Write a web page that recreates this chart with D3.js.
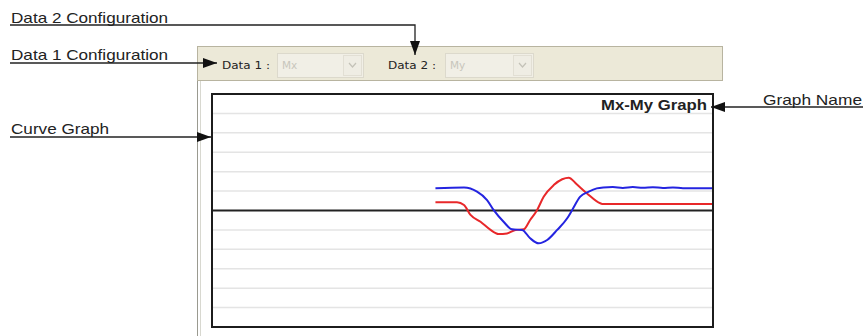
<!DOCTYPE html>
<html>
<head>
<meta charset="utf-8">
<script src="https://cdn.jsdelivr.net/npm/d3@7"></script>
<style>
	body { margin: 0; background: #fff; }
	svg { display: block; }
</style>
</head>
<body>
<svg id="chart" width="864" height="336"></svg>
<script>
	// Curve samples: [time, value]
	const timeDomain = [0, 100]
	const valueDomain = [-6, 6]

	const mxTime = [44.6, 48.9, 50.3, 51.6, 53.6, 55.6, 57.2, 58.9, 60.6, 62.2, 63.5, 64.9, 66.2, 68.2, 69.9, 71.2, 72.8, 74.8, 77.5, 78.1, 100]
	const mxValue = [0.42, 0.42, 0.28, -0.23, -0.58, -1.0, -1.21, -1.18, -1.0, -0.97, -0.49, 0.03, 0.71, 1.31, 1.61, 1.69, 1.35, 0.89, 0.37, 0.33, 0.33]

	const myTime = [44.6, 50.3, 52.9, 54.9, 56.2, 58.2, 59.9, 61.9, 63.5, 65.2, 66.9, 68.9, 70.9, 71.9, 73.5, 75.2, 76.8, 78.1, 80, 82, 84, 86, 88, 90, 92, 94, 100]
	const myValue = [1.14, 1.18, 0.97, 0.54, 0.03, -0.58, -0.97, -1.0, -1.43, -1.69, -1.52, -1.0, -0.4, 0.03, 0.71, 0.97, 1.14, 1.19, 1.21, 1.16, 1.21, 1.17, 1.2, 1.16, 1.19, 1.15, 1.15]

	const graphName = "Mx-My Graph"
	const comboLabels = ["Data 1 :", "Data 2 :"]
	const comboValues = ["Mx", "My"]

	const svg = d3.select("#chart")
	const font = "'Liberation Sans', Arial, sans-serif"
	const uiFont = "'DejaVu Sans', Tahoma, sans-serif"

	// arrowhead marker
	svg.append("defs").append("marker")
		.attr("id", "arrow")
		.attr("viewBox", "0 0 14 10")
		.attr("refX", 14)
		.attr("refY", 5)
		.attr("markerWidth", 14)
		.attr("markerHeight", 10)
		.attr("markerUnits", "userSpaceOnUse")
		.attr("orient", "auto")
		.append("path")
		.attr("d", "M0,0 L14,5 L0,10 Z")
		.attr("fill", "#111")

	// Window panel
	const panel = svg.append("g").attr("class", "panel")
	panel.append("line")
		.attr("x1", 197.5).attr("x2", 197.5)
		.attr("y1", 46).attr("y2", 336)
		.attr("stroke", "#9a9a90")
	panel.append("line")
		.attr("x1", 200.5).attr("x2", 200.5)
		.attr("y1", 81).attr("y2", 336)
		.attr("stroke", "#d8d8d0")
	panel.append("rect")
		.attr("x", 197.5).attr("y", 46.5)
		.attr("width", 525).attr("height", 34)
		.attr("fill", "#ece9d8")
		.attr("stroke", "#b8b4a0")

	// Toolbar combos
	const comboX = [{ label: 222, box: 277, w: 86 }, { label: 388, box: 445, w: 88 }]
	comboLabels.forEach((lab, i) => {
		const c = comboX[i]
		panel.append("text")
			.attr("x", c.label).attr("y", 69)
			.attr("font-family", uiFont).attr("font-size", 11)
			.attr("textLength", 48).attr("lengthAdjust", "spacingAndGlyphs")
			.attr("fill", "#222")
			.text(lab)
		panel.append("rect")
			.attr("x", c.box + 0.5).attr("y", 53.5)
			.attr("width", c.w).attr("height", 24)
			.attr("fill", "#f1efe6").attr("stroke", "#dcd9cc")
		panel.append("rect")
			.attr("x", c.box + c.w - 19.5).attr("y", 55.5)
			.attr("width", 18).attr("height", 20)
			.attr("fill", "#efede4").attr("stroke", "#e2dfd4")
		panel.append("text")
			.attr("x", c.box + 5).attr("y", 69)
			.attr("font-family", uiFont).attr("font-size", 10.5)
			.attr("fill", "#c8c6bc")
			.text(comboValues[i])
		panel.append("path")
			.attr("d", `M${c.box + c.w - 14},63 L${c.box + c.w - 10.5},67 L${c.box + c.w - 7},63`)
			.attr("fill", "none").attr("stroke", "#c4c2b8").attr("stroke-width", 1.2)
	})

	// Graph
	const box = { left: 212, right: 713, top: 94, bottom: 327 }
	const x = d3.scaleLinear().domain(timeDomain).range([box.left, box.right])
	const y = d3.scaleLinear().domain(valueDomain).range([box.bottom, box.top])

	const graph = svg.append("g").attr("class", "graph")
	graph.append("rect")
		.attr("x", box.left).attr("y", box.top)
		.attr("width", box.right - box.left).attr("height", box.bottom - box.top)
		.attr("fill", "#fff")

	graph.append("g")
		.selectAll("line")
		.data(y.ticks(12).filter(v => v !== 0 && v > valueDomain[0] && v < valueDomain[1]))
		.join("line")
		.attr("x1", box.left).attr("x2", box.right)
		.attr("y1", d => y(d)).attr("y2", d => y(d))
		.attr("stroke", "#e4e4e4").attr("stroke-width", 1.5)

	graph.append("line")
		.attr("x1", box.left).attr("x2", box.right)
		.attr("y1", y(0)).attr("y2", y(0))
		.attr("stroke", "#222").attr("stroke-width", 2)

	const line = d3.line()
		.x(d => x(d[0]))
		.y(d => y(d[1]))
		.curve(d3.curveMonotoneX)

	const series = [
		{ name: "Mx", colour: "#e8282a", pts: d3.zip(mxTime, mxValue) },
		{ name: "My", colour: "#2424e0", pts: d3.zip(myTime, myValue) },
	]
	graph.selectAll("path.curve")
		.data(series)
		.join("path")
		.attr("class", "curve")
		.attr("d", d => line(d.pts))
		.attr("fill", "none")
		.attr("stroke", d => d.colour)
		.attr("stroke-width", 2)

	graph.append("rect")
		.attr("x", box.left).attr("y", box.top)
		.attr("width", box.right - box.left).attr("height", box.bottom - box.top)
		.attr("fill", "none")
		.attr("stroke", "#1c1c1c").attr("stroke-width", 2)

	graph.append("text")
		.attr("x", 707).attr("y", 110)
		.attr("text-anchor", "end")
		.attr("font-family", font).attr("font-size", 15).attr("font-weight", "bold")
		.attr("textLength", 106).attr("lengthAdjust", "spacingAndGlyphs")
		.attr("fill", "#222")
		.text(graphName)

	// Callouts
	const callouts = [
		{ text: "Data 2 Configuration", tx: 11, ty: 22.5, w: 157, path: [[10, 25], [415, 25], [415, 55]] },
		{ text: "Data 1 Configuration", tx: 11, ty: 60, w: 157, path: [[10, 63], [217, 63]] },
		{ text: "Curve Graph", tx: 11, ty: 134, w: 98, path: [[10, 137], [211, 137]] },
		{ text: "Graph Name", tx: 763, ty: 104.5, w: 99, path: [[863, 107], [711, 107]] },
	]
	const co = svg.append("g").attr("class", "callouts")
	co.selectAll("text")
		.data(callouts)
		.join("text")
		.attr("x", d => d.tx).attr("y", d => d.ty)
		.attr("font-family", font).attr("font-size", 15)
		.attr("textLength", d => d.w).attr("lengthAdjust", "spacingAndGlyphs")
		.attr("fill", "#222")
		.text(d => d.text)
	co.selectAll("path")
		.data(callouts)
		.join("path")
		.attr("d", d => d3.line()(d.path))
		.attr("fill", "none")
		.attr("stroke", "#222").attr("stroke-width", 1.3)
		.attr("marker-end", "url(#arrow)")
</script>
</body>
</html>
